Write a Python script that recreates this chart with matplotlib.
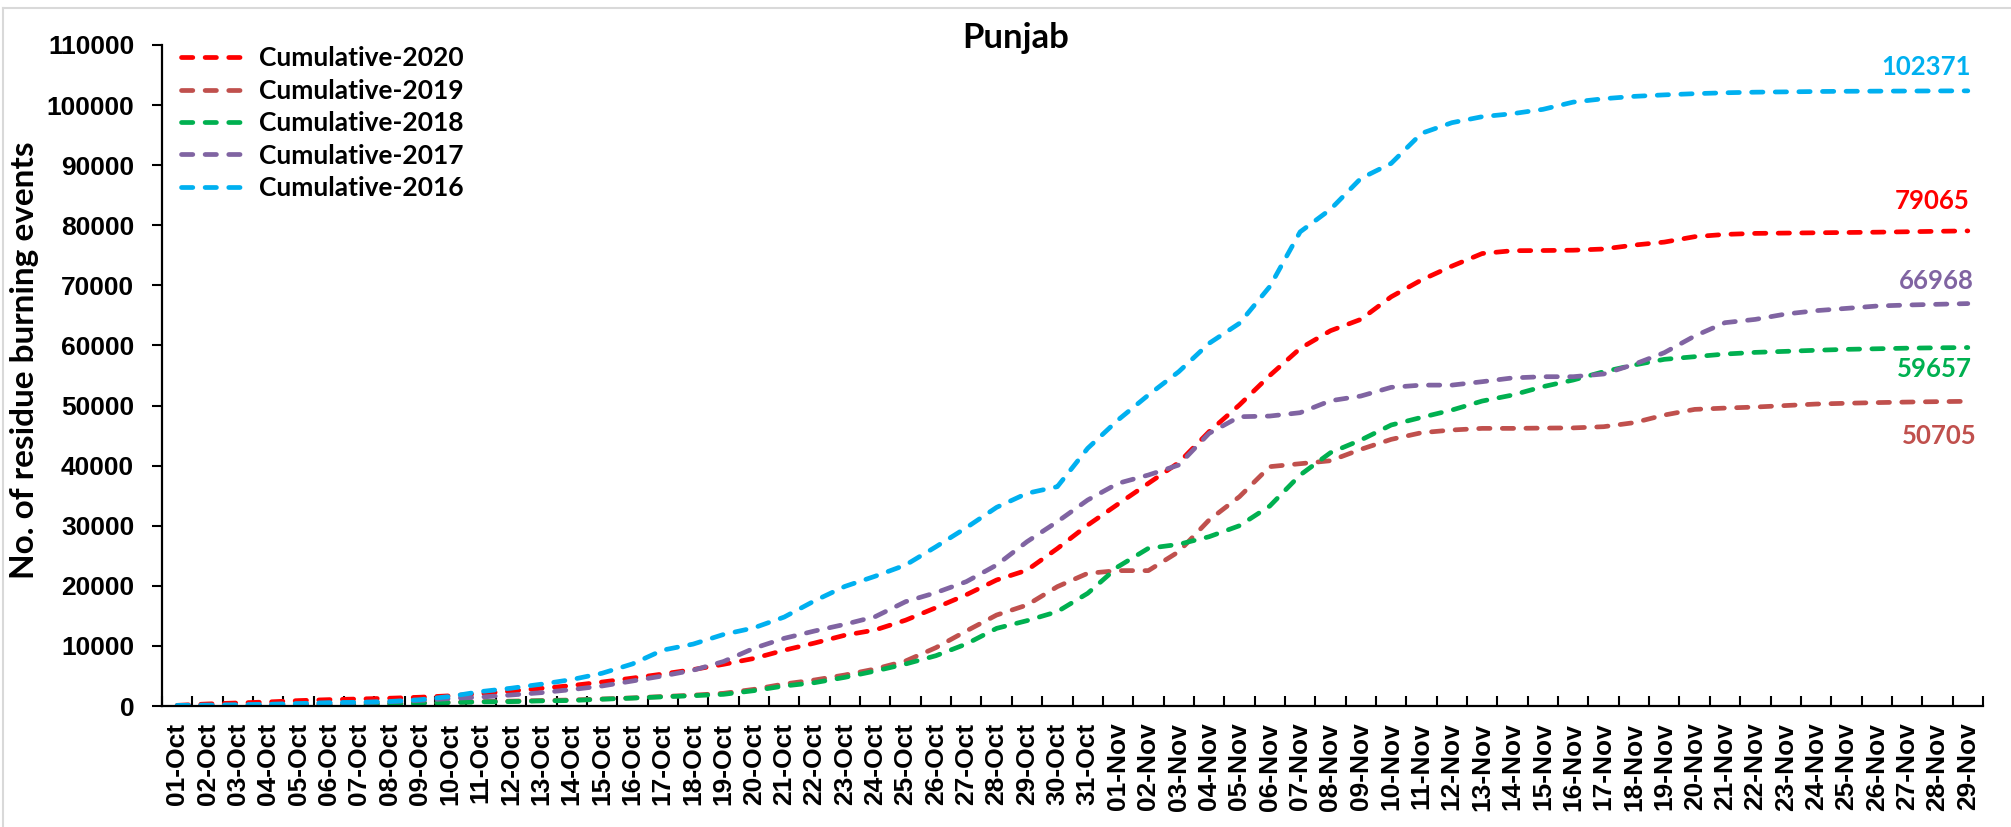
import matplotlib
matplotlib.use("Agg")
import matplotlib.pyplot as plt
from matplotlib.lines import Line2D
import numpy as np

dates = ["01-Oct", "02-Oct", "03-Oct", "04-Oct", "05-Oct", "06-Oct", "07-Oct", "08-Oct", "09-Oct", "10-Oct",
         "11-Oct", "12-Oct", "13-Oct", "14-Oct", "15-Oct", "16-Oct", "17-Oct", "18-Oct", "19-Oct", "20-Oct",
         "21-Oct", "22-Oct", "23-Oct", "24-Oct", "25-Oct", "26-Oct", "27-Oct", "28-Oct", "29-Oct", "30-Oct",
         "31-Oct", "01-Nov", "02-Nov", "03-Nov", "04-Nov", "05-Nov", "06-Nov", "07-Nov", "08-Nov", "09-Nov",
         "10-Nov", "11-Nov", "12-Nov", "13-Nov", "14-Nov", "15-Nov", "16-Nov", "17-Nov", "18-Nov", "19-Nov",
         "20-Nov", "21-Nov", "22-Nov", "23-Nov", "24-Nov", "25-Nov", "26-Nov", "27-Nov", "28-Nov", "29-Nov"]

cum_2020 = [110, 340, 510, 675, 900, 1060, 1170, 1295, 1460, 1700,
            2050, 2490, 2940, 3400, 3985, 4640, 5320, 6060, 6935, 7910,
            9280, 10475, 11780, 12655, 14280, 16360, 18510, 20970, 22600, 26200,
            30100, 33600, 37050, 40500, 45650, 50100, 55000, 59500, 62450, 64340,
            68100, 70900, 73200, 75300, 75770, 75800, 75850, 76050, 76700, 77200,
            78100, 78480, 78650, 78700, 78750, 78800, 78850, 78920, 79000, 79065]

cum_2019 = [0, 30, 60, 90, 125, 165, 270, 380, 490, 610,
            730, 810, 910, 1000, 1170, 1350, 1580, 1800, 2110, 2770,
            3660, 4330, 5160, 6160, 7490, 9710, 12480, 15140, 16800, 19860,
            22080, 22530, 22530, 25680, 30950, 34830, 39830, 40320, 40820, 42710,
            44370, 45480, 45930, 46200, 46200, 46250, 46280, 46480, 47150, 48420,
            49360, 49580, 49750, 50000, 50250, 50380, 50490, 50580, 50650, 50705]

cum_2018 = [0, 20, 40, 60, 85, 120, 235, 345, 455, 565,
            680, 730, 845, 915, 1130, 1310, 1520, 1710, 1940, 2550,
            3330, 3880, 4770, 5820, 6990, 8370, 10320, 12920, 14200, 15700,
            18750, 23180, 26240, 26900, 28170, 30000, 33280, 38440, 42150, 44260,
            46760, 48030, 49250, 50750, 51750, 53140, 54250, 55630, 56740, 57690,
            58130, 58570, 58850, 59020, 59200, 59350, 59450, 59550, 59610, 59657]

cum_2017 = [50, 100, 150, 250, 350, 450, 560, 720, 930, 1250,
            1480, 1830, 2220, 2730, 3330, 4160, 5000, 5950, 7400, 9600,
            11260, 12480, 13590, 14870, 17360, 18860, 20690, 23460, 27340, 30670,
            34280, 37050, 38440, 40100, 45370, 48140, 48250, 48810, 50800, 51580,
            53030, 53400, 53400, 53970, 54600, 54800, 54800, 55250, 56850, 58800,
            61570, 63790, 64340, 65230, 65790, 66170, 66560, 66730, 66850, 66968]

cum_2016 = [100, 150, 200, 290, 410, 560, 620, 750, 1050, 1590,
            2400, 2960, 3630, 4400, 5450, 7000, 9300, 10300, 11900, 13000,
            14800, 17500, 19900, 21600, 23460, 26500, 29670, 33060, 35390, 36500,
            42880, 47600, 51750, 55630, 60350, 63680, 69800, 78900, 82650, 87800,
            90300, 95300, 97070, 98070, 98570, 99290, 100500, 101060, 101450, 101700,
            101900, 102050, 102150, 102200, 102260, 102300, 102320, 102340, 102360, 102371]

series_names = ["Cumulative-2020", "Cumulative-2019", "Cumulative-2018", "Cumulative-2017", "Cumulative-2016"]
series_values = [cum_2020, cum_2019, cum_2018, cum_2017, cum_2016]
series_colors = ["#FF0000", "#C0504D", "#00B050", "#8064A2", "#00B0F0"]
# label offsets (pixels) for the end-value labels
label_offsets = [(2, 30), (9, -35), (4, -21), (6, 23), (3, 24)]

W, H = 2011, 827
fig = plt.figure(figsize=(W / 100, H / 100), dpi=100)
ax = fig.add_axes([162 / W, 1 - 706 / H, (1983 - 162) / W, (706 - 45) / H])

x = np.arange(len(dates))
for name, vals, color in zip(series_names, series_values, series_colors):
    ax.plot(x, vals, color=color, lw=3.4, linestyle=(0, (2.4, 2.6)),
            dash_capstyle='round', label=name)

for vals, color, off in zip(series_values, series_colors, label_offsets):
    ax.annotate(f"{vals[-1]}", xy=(x[-1], vals[-1]), xytext=off, textcoords='offset pixels',
                ha='right', va='center', color=color, fontsize=18.5,
                fontfamily='Lato', fontweight='bold')

ax.set_xlim(-0.5, len(dates) - 0.5)
ax.set_ylim(0, 110000)
ax.set_yticks(np.arange(0, 110001, 10000))
ax.set_yticklabels([str(v) for v in range(0, 110001, 10000)],
                   fontfamily='Liberation Sans', fontweight='bold', fontsize=19)
ax.set_xticks(x)
ax.set_xticklabels(dates, rotation=90, fontfamily='Liberation Sans', fontweight='bold', fontsize=19)
ax.set_xticks(np.arange(-0.5, len(dates), 1), minor=True)
ax.tick_params(axis='x', which='major', length=0, pad=12)
ax.tick_params(axis='x', which='minor', direction='in', length=7, width=1.5, color='black')
ax.tick_params(axis='y', which='major', direction='out', length=7, width=1.5, pad=13)

for s in ['top', 'right']:
    ax.spines[s].set_visible(False)
for s in ['left', 'bottom']:
    ax.spines[s].set_linewidth(1.6)
    ax.spines[s].set_color('black')

leg = ax.legend(loc='upper left', bbox_to_anchor=(19 / 1821, 0.998), frameon=False,
                handlelength=2.45, handletextpad=0.5, borderpad=0, borderaxespad=0,
                labelspacing=0.32, prop={'family': 'Lato', 'weight': 'bold', 'size': 19})

fig.text(1016 / W, 1 - 48 / H, "Punjab", ha='center', va='baseline',
         fontfamily='Lato', fontweight='bold', fontsize=25)
fig.text(25 / W, 1 - 360 / H, "No. of residue burning events", rotation=90,
         ha='center', va='center', fontfamily='Lato', fontweight='bold', fontsize=24)

# light chart-area border
fig.add_artist(Line2D([3 / W, 3 / W], [0, 1 - 8 / H], color='#D9D9D9', lw=1.5, transform=fig.transFigure))
fig.add_artist(Line2D([3 / W, 1], [1 - 8 / H, 1 - 8 / H], color='#D9D9D9', lw=1.5, transform=fig.transFigure))

fig.savefig("out.png", dpi=100)
